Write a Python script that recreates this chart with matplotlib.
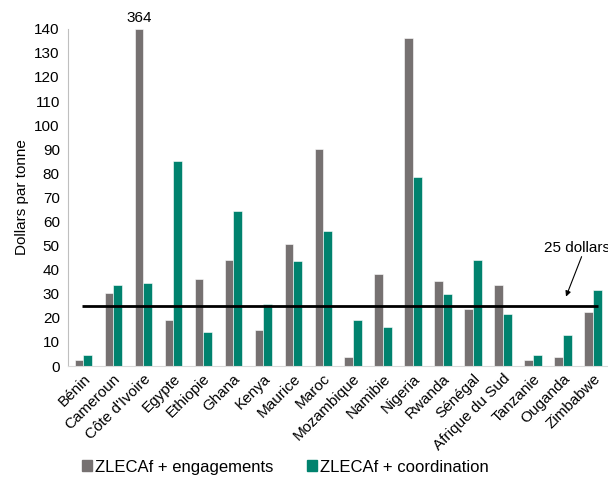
import numpy as np
import matplotlib.pyplot as plt
from matplotlib.patches import Patch

plt.rcParams['font.family'] = ['Liberation Sans', 'DejaVu Sans']

pays = ["Bénin", "Cameroun", "Côte d'Ivoire", "Egypte", "Ethiopie", "Ghana", "Kenya",
        "Maurice", "Maroc", "Mozambique", "Namibie", "Nigeria", "Rwanda", "Sénégal",
        "Afrique du Sud", "Tanzanie", "Ouganda", "Zimbabwe"]
engagements = [2.6, 30.2, 364, 19.1, 36.3, 44.1, 14.8, 50.6, 90.1, 3.6, 38.1, 136.1,
               35.2, 23.7, 33.7, 2.5, 3.9, 22.6]
coordination = [4.4, 33.5, 34.5, 85.1, 14.1, 64.3, 25.8, 43.5, 56.1, 19.3, 16.1, 78.5,
                29.7, 44.2, 21.7, 4.7, 12.9, 31.7]
seuil = 25

gris = '#767171'
vert = '#00826E'

fig = plt.figure(figsize=(6.08, 4.8), dpi=100)
ax = fig.add_axes([0.112, 0.2375, 0.888, 0.7025])

x = np.arange(len(pays))
w = 0.285
ymax = 140
ax.bar(x - w / 2, np.minimum(engagements, ymax), w, color=gris, edgecolor='white', linewidth=0.4)
ax.bar(x + w / 2, coordination, w, color=vert, edgecolor='white', linewidth=0.4)

# barre coupee pour la Cote d'Ivoire
i_max = int(np.argmax(engagements))
ax.text(x[i_max] - w / 2, ymax + 1.5, str(engagements[i_max]), ha='center', va='bottom', fontsize=11)

ax.hlines(seuil, -0.02, 17.17, color='black', linewidth=2, zorder=3)
ax.text(16.45, 49, '25 dollars', ha='center', va='center', fontsize=11)
ax.annotate('', xy=(16.1, 28.8), xytext=(16.62, 45.4),
            arrowprops=dict(arrowstyle='-|>', color='black', lw=0.8, mutation_scale=8, shrinkA=0, shrinkB=0))

ax.set_xlim(-0.5, 17.5)
ax.set_ylim(0, ymax)
ax.set_yticks(np.arange(0, 141, 10))
ax.set_xticks(x)
ax.set_xticklabels(pays, rotation=45, ha='right', rotation_mode='anchor', fontsize=11)
ax.tick_params(axis='y', labelsize=11, length=0, pad=6)
ax.tick_params(axis='x', length=0, pad=4)
ax.set_ylabel('Dollars par tonne', fontsize=11, labelpad=4)

for s in ['top', 'right']:
    ax.spines[s].set_visible(False)
ax.spines['left'].set_color('#BFBFBF')
ax.spines['bottom'].set_color('#D9D9D9')

handles = [Patch(color=gris), Patch(color=vert)]
fig.legend(handles, ['ZLECAf + engagements', 'ZLECAf + coordination'], ncol=2,
           loc='center left', bbox_to_anchor=(0.11, 0.027), frameon=False, fontsize=12,
           handlelength=0.6, handleheight=0.6, handletextpad=0.2, columnspacing=2.0)

fig.savefig('out.png', dpi=100)
